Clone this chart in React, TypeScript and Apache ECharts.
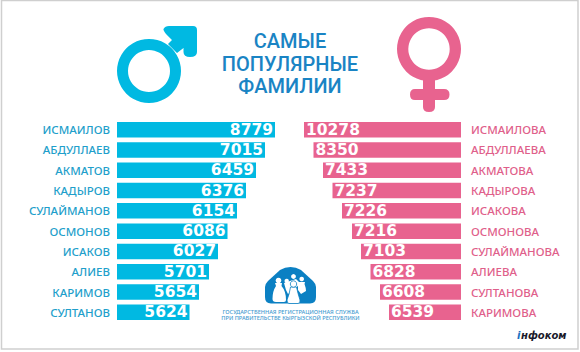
import React, { useEffect, useRef } from "react";
import * as echarts from "echarts";

const maleNames = ["ИСМАИЛОВ", "АБДУЛЛАЕВ", "АКМАТОВ", "КАДЫРОВ", "СУЛАЙМАНОВ", "ОСМОНОВ", "ИСАКОВ", "АЛИЕВ", "КАРИМОВ", "СУЛТАНОВ"];
const maleValues = [8779, 7015, 6459, 6376, 6154, 6086, 6027, 5701, 5654, 5624];
// The source infographic draws its bars as an even staircase, not in proportion to the printed numbers.
const maleBarLengths = [158, 148, 139, 129, 120, 110.5, 101, 92, 82, 72.5];
const femaleNames = ["ИСМАИЛОВА", "АБДУЛЛАЕВА", "АКМАТОВА", "КАДЫРОВА", "ИСАКОВА", "ОСМОНОВА", "СУЛАЙМАНОВА", "АЛИЕВА", "СУЛТАНОВА", "КАРИМОВА"];
const femaleValues = [10278, 8350, 7433, 7237, 7226, 7216, 7103, 6828, 6608, 6539];
const femaleBarLengths = [157, 147.5, 138, 128.5, 119, 109, 100, 90.5, 81, 72];
const titleText = "САМЫЕ\nПОПУЛЯРНЫЕ\nФАМИЛИИ";
const agencyText = "ГОСУДАРСТВЕННАЯ РЕГИСТРАЦИОННАЯ СЛУЖБА\nПРИ ПРАВИТЕЛЬСТВЕ КЫРГЫЗСКОЙ РЕСПУБЛИКИ";

const BLUE = "#00b9e2";
const PINK = "#e8638f";
const LOGO = "#0b80c3";
const FONT = "'Noto Sans', sans-serif";

echarts.graphic.registerShape("maleArrow", echarts.graphic.extendPath(
  "M168,44 L172,40 L166,34 Q163,30 163.5,29 Q165,26 169,26 L193,26 Q197,26 197,30 L197,52 Q197,57 190,57 Q183.5,57 183.5,52 L183.5,48 L177,53 Z", {}));
echarts.graphic.registerShape("femaleCross", echarts.graphic.extendPath(
  "M423,78 L435,78 L435,89 L444,89 Q449.5,89 449.5,94.5 Q449.5,100 444,100 L435,100 L435,107 Q435,112 429,112 Q423,112 423,107 L423,100 L415,100 Q410,100 410,94.5 Q410,89 415,89 L423,89 Z", {}));
echarts.graphic.registerShape("agencyHouse", echarts.graphic.extendPath(
  "M265,287 Q265,284 268,281 L280,270 Q285,267 290.5,267 Q296,267 301,270 L313,281 Q316,284 316,287 L316,297 Q316,303.5 310,303.5 L271,303.5 Q265,303.5 265,297 Z", {}));
echarts.graphic.registerShape("personLeft", echarts.graphic.extendPath(
  "M275,283 L282,283 L281.5,286 Q286,291 286,300 Q286,302 284,302 L276,302 Q272.5,302 272.5,299 Q272.5,291 276,286 Z", {}));
echarts.graphic.registerShape("personRight", echarts.graphic.extendPath(
  "M298,282 L305,282 L304.5,284 Q306,288 306,291 L301,294 L298,290 Z", {}));
echarts.graphic.registerShape("personMid", echarts.graphic.extendPath(
  "M284,283 L296,279 L300,283 L296,288 L288,294 L286,290 Z", {}));
echarts.graphic.registerShape("personFront", echarts.graphic.extendPath(
  "M290.5,287 L296.5,287 Q298,294 300,300 Q300.5,303.5 298,303.5 L289,303.5 Q287,303.5 287,300 Q289.5,294 290.5,287 Z", {}));

export default function App() {
  const ref = useRef<HTMLDivElement>(null);
  useEffect(() => {
    document.body.style.margin = "0";
    const chart = echarts.init(ref.current!, undefined, { renderer: "svg" });
    const barSeries = (i: number, lengths: number[], values: number[], color: string, pos: string) => ({
      type: "bar" as const,
      xAxisIndex: i,
      yAxisIndex: i,
      data: lengths,
      barWidth: 15.5,
      silent: true,
      itemStyle: { color },
      label: {
        show: true,
        position: pos,
        distance: 2,
        color: "#ffffff",
        fontFamily: "'DejaVu Sans', sans-serif",
        fontWeight: 700,
        fontSize: 15.5,
        formatter: (p: any) => String(values[p.dataIndex]),
      },
    });
    chart.setOption({
      animation: false,
      backgroundColor: "#ffffff",
      grid: [
        { left: 117, width: 160, top: 119.5, height: 203 },
        { left: 301, width: 160, top: 119.5, height: 203 },
      ],
      xAxis: [
        { type: "value", gridIndex: 0, min: 0, max: 160, show: false },
        { type: "value", gridIndex: 1, min: 0, max: 160, show: false, inverse: true },
      ],
      yAxis: [
        {
          type: "category", gridIndex: 0, inverse: true, data: maleNames,
          axisLine: { show: false }, axisTick: { show: false },
          axisLabel: { color: "#1f9fcb", fontFamily: FONT, fontWeight: 500, fontSize: 11.5, margin: 7, interval: 0 },
        },
        {
          type: "category", gridIndex: 1, inverse: true, data: femaleNames, position: "right",
          axisLine: { show: false, onZero: false }, axisTick: { show: false },
          axisLabel: { color: "#df5f8b", fontFamily: FONT, fontWeight: 500, fontSize: 11.5, margin: 10, interval: 0 },
        },
      ],
      series: [
        barSeries(0, maleBarLengths, maleValues, BLUE, "insideRight"),
        barSeries(1, femaleBarLengths, femaleValues, PINK, "insideLeft"),
      ],
      graphic: [
        { type: "rect", silent: true, shape: { x: 1.5, y: 0.5, width: 576.5, height: 348.5 }, style: { fill: "none", stroke: "#cfcfcf", lineWidth: 1.5 } },
        { type: "ring", shape: { cx: 149, cy: 71, r: 32, r0: 21 }, style: { fill: BLUE } },
        { type: "maleArrow", style: { fill: BLUE } },
        { type: "ring", shape: { cx: 429, cy: 49, r: 32, r0: 20.7 }, style: { fill: PINK } },
        { type: "femaleCross", style: { fill: PINK } },
        { type: "text", style: { text: titleText, x: 290, y: 63.5, align: "center", verticalAlign: "middle", lineHeight: 22.5, fill: "#1a84c4", fontFamily: "Roboto, sans-serif", fontWeight: 500, fontSize: 20 } },
        { type: "agencyHouse", style: { fill: LOGO } },
        { type: "personLeft", style: { fill: "#fff" } },
        { type: "personMid", style: { fill: "#fff" } },
        { type: "personRight", style: { fill: "#fff" } },
        { type: "personFront", style: { fill: "#fff", stroke: LOGO, lineWidth: 0.8 } },
        { type: "circle", shape: { cx: 278.5, cy: 280.5, r: 2.8 }, style: { fill: "#fff" } },
        { type: "circle", shape: { cx: 286.7, cy: 281, r: 2.2 }, style: { fill: "#fff" } },
        { type: "circle", shape: { cx: 293.5, cy: 276.5, r: 2.4 }, style: { fill: "#fff" } },
        { type: "circle", shape: { cx: 301.7, cy: 279, r: 2.3 }, style: { fill: "#fff" } },
        { type: "circle", shape: { cx: 293.5, cy: 284, r: 3.2 }, style: { fill: "#fff", stroke: LOGO, lineWidth: 0.8 } },
        { type: "text", style: { text: agencyText, x: 290.5, y: 314.7, align: "center", verticalAlign: "middle", lineHeight: 6.3, fill: "#3f9ad0", fontFamily: FONT, fontWeight: 500, fontSize: 5.6 } },
        { type: "text", style: { text: "і", x: 517, y: 335, align: "left", verticalAlign: "middle", fill: "#1a6fc0", fontFamily: "'DejaVu Sans', sans-serif", fontStyle: "italic", fontWeight: 700, fontSize: 10 } },
        { type: "text", style: { text: "нфоком", x: 521, y: 335, align: "left", verticalAlign: "middle", fill: "#1a1a2a", fontFamily: "'DejaVu Sans', sans-serif", fontStyle: "italic", fontWeight: 700, fontSize: 10 } },
      ],
    });
    return () => chart.dispose();
  }, []);
  return <div ref={ref} style={{ width: 580, height: 352 }} />;
}
